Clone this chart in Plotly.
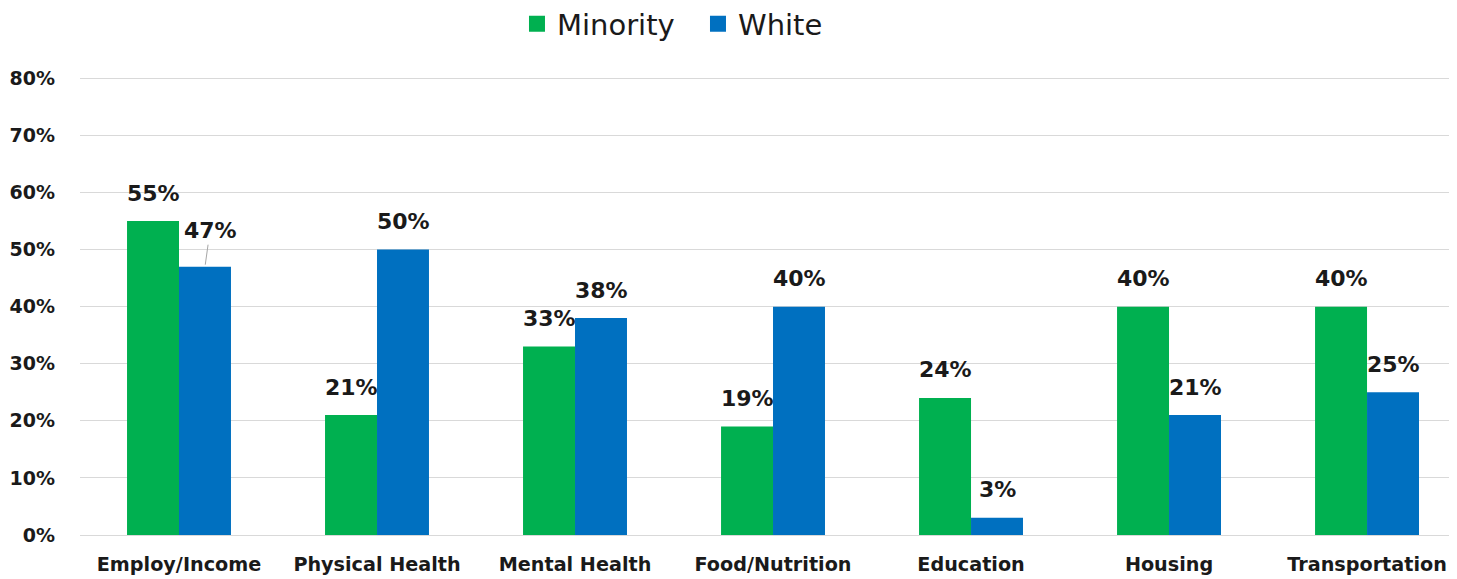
import plotly.graph_objects as go

categories = ["Employ/Income", "Physical Health", "Mental Health", "Food/Nutrition",
              "Education", "Housing", "Transportation"]
minority = [55, 21, 33, 19, 24, 40, 40]
white = [47, 50, 38, 40, 3, 21, 25]
series_names = ["Minority", "White"]
y_ticks = [0, 10, 20, 30, 40, 50, 60, 70, 80]
y_tick_labels = [f"{v}%" for v in y_ticks]

GREEN = "#00B050"
BLUE = "#0070C0"
FONT = "DejaVu Sans"
TXT = "#1a1a1a"

W, H = 1441, 571

fig = go.Figure()
fig.add_trace(go.Bar(name=series_names[0], x=categories, y=minority, marker_color=GREEN,
                     marker_line_width=0, showlegend=False))
fig.add_trace(go.Bar(name=series_names[1], x=categories, y=white, marker_color=BLUE,
                     marker_line_width=0, showlegend=False))
# legend entries with larger square swatches
for name, col in zip(series_names, (GREEN, BLUE)):
    fig.add_trace(go.Scatter(name=name, x=[None], y=[None], mode="markers",
                             marker=dict(symbol="square", size=18, color=col),
                             showlegend=True, hoverinfo="skip"))

annotations = []
for vals, shift in ((minority, -26), (white, 26)):
    for c, v in zip(categories, vals):
        if c == "Employ/Income" and shift > 0:
            annotations.append(dict(x=c, y=v, xref="x", yref="y", text=f"<b>{v}%</b>",
                                    xshift=shift, showarrow=True, arrowhead=0, arrowwidth=1,
                                    arrowcolor="#a6a6a6", ax=5, ay=-36, standoff=2,
                                    font=dict(family=FONT, size=22, color=TXT)))
        else:
            annotations.append(dict(x=c, y=v, xref="x", yref="y", text=f"<b>{v}%</b>",
                                    xshift=shift, yshift=28, yanchor="middle", showarrow=False,
                                    font=dict(family=FONT, size=22, color=TXT)))

fig.update_layout(
    width=W, height=H,
    margin=dict(l=72, r=0, t=68, b=44),
    barmode="group", bargap=0.475, bargroupgap=0,
    plot_bgcolor="white", paper_bgcolor="white",
    font=dict(family=FONT, color=TXT),
    legend=dict(orientation="h", xref="paper", x=0.3192, xanchor="left",
                yref="container", y=1 - 16 / H, yanchor="middle",
                font=dict(family=FONT, size=29, color=TXT), itemwidth=30,
                entrywidth=136, entrywidthmode="pixels",
                traceorder="normal", itemsizing="trace"),
    annotations=annotations,
    xaxis=dict(range=[-0.5, 6.414], showgrid=False, showline=False, ticks="",
               tickfont=dict(family=FONT, size=19.2, color=TXT), ticklabelstandoff=16,
               tickprefix="<b>", ticksuffix="</b>", automargin=False),
    yaxis=dict(range=[0, 80.4], tickvals=y_ticks, ticktext=[f"<b>{t}</b>" for t in y_tick_labels],
               showgrid=True, gridcolor="#d9d9d9", gridwidth=1, zeroline=True,
               zerolinecolor="#d9d9d9", zerolinewidth=1, showline=False, ticks="",
               tickfont=dict(family=FONT, size=19, color=TXT), ticklabelstandoff=24,
               automargin=False),
)

fig.write_html("out.html")
